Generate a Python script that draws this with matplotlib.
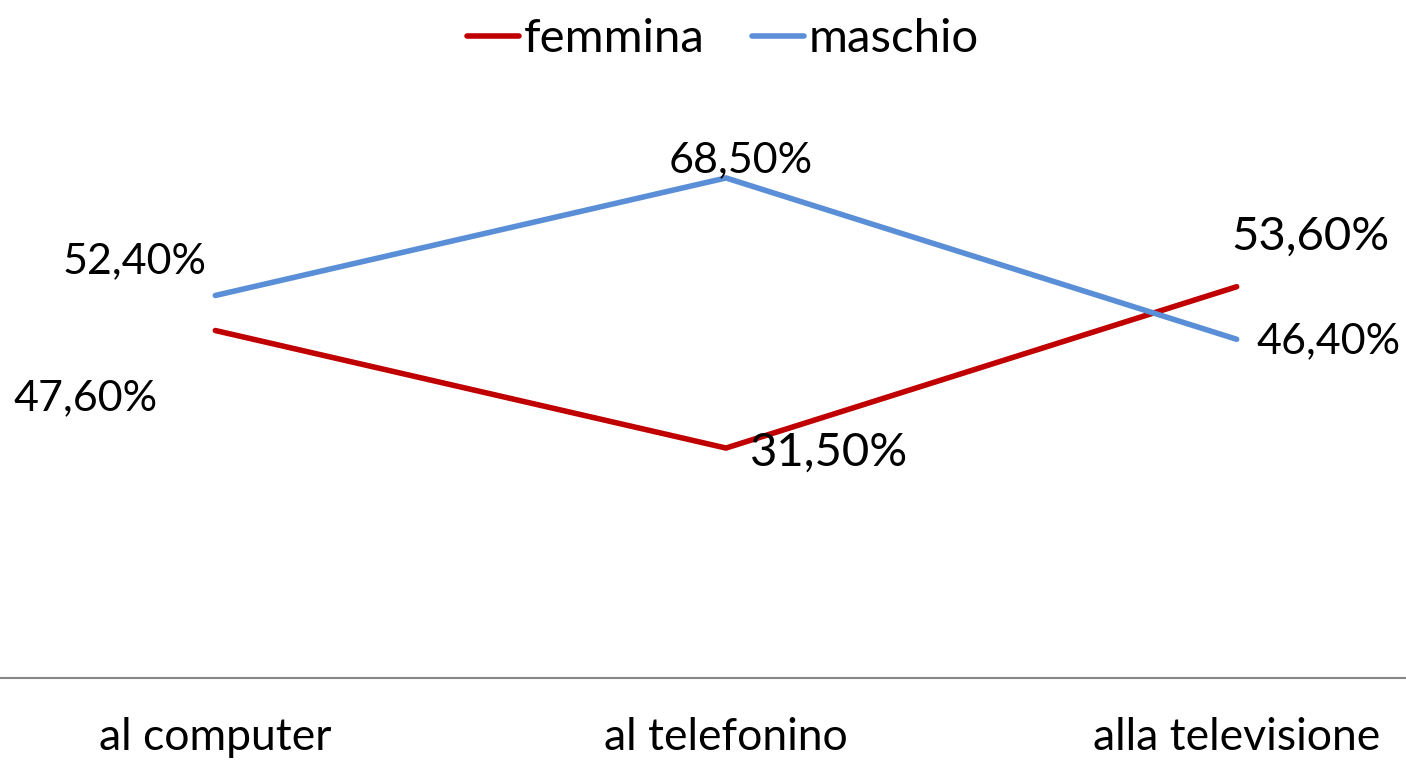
import matplotlib

matplotlib.use("Agg")
import matplotlib.pyplot as plt

plt.rcParams["font.family"] = ["Lato", "DejaVu Sans"]

categories = ["al computer", "al telefonino", "alla televisione"]
femmina = [47.6, 31.5, 53.6]
maschio = [52.4, 68.5, 46.4]
femmina_labels = ["47,60%", "31,50%", "53,60%"]
maschio_labels = ["52,40%", "68,50%", "46,40%"]

RED = "#C00000"
BLUE = "#5A8ED6"

fig = plt.figure(figsize=(14.06, 7.62), dpi=100)
ax = fig.add_axes([-40 / 1406, 84 / 762, 1532 / 1406, 584 / 762])

x = list(range(len(categories)))
ax.plot(x, femmina, color=RED, lw=4.0, solid_capstyle="round", label="femmina")
ax.plot(x, maschio, color=BLUE, lw=4.0, solid_capstyle="round", label="maschio")

# offsets in pixel (dx, dy) rispetto al punto
off_f = [(-130, -68), (103, -5), (74, 50)]
off_m = [(-81, 34), (15, 18), (92, -2)]
size_f = [31, 34, 34]
size_m = [31, 31, 31]
for i in x:
    for vals, labs, offs, sz in ((femmina, femmina_labels, off_f, size_f),
                                 (maschio, maschio_labels, off_m, size_m)):
        dx, dy = offs[i]
        ax.annotate(labs[i], (i, vals[i]), xytext=(dx * 0.72, dy * 0.72),
                    textcoords="offset points", ha="center", va="center",
                    fontsize=sz[i], color="black")

ax.set_xlim(-0.5, 2.5)
ax.set_ylim(0, 80)
ax.set_xticks(x)
ax.set_xticklabels(categories, fontsize=32)
ax.tick_params(axis="x", length=0, pad=28)
ax.set_yticks([])
for s in ("top", "right", "left"):
    ax.spines[s].set_visible(False)
ax.spines["bottom"].set_color("#868686")
ax.spines["bottom"].set_linewidth(1.5)

fig.legend(loc="upper center", bbox_to_anchor=(0.514, 1.032), ncol=2,
           frameon=False, fontsize=34, handlelength=1.1, handletextpad=0.1,
           columnspacing=1.0)

fig.savefig("out.png", dpi=100)
